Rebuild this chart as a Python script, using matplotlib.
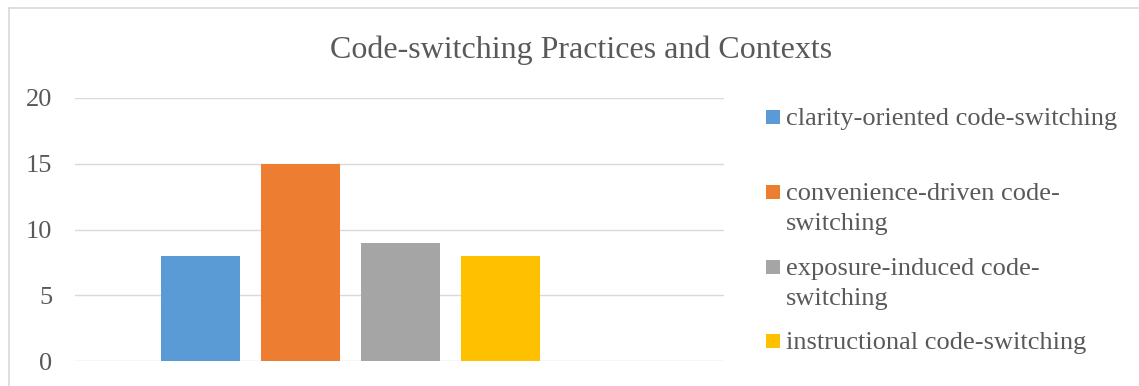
import matplotlib
matplotlib.use("Agg")
import matplotlib.pyplot as plt
from matplotlib.lines import Line2D
from matplotlib.patches import Rectangle
import numpy as np

# Data
series = [
    "clarity-oriented code-switching",
    "convenience-driven code-switching",
    "exposure-induced code-switching",
    "instructional code-switching",
]
# Legend text lines (wrapped after the hyphen, as the legend column is narrow)
legend_lines = [
    ["clarity-oriented code-switching"],
    ["convenience-driven code-", "switching"],
    ["exposure-induced code-", "switching"],
    ["instructional code-switching"],
]
values = [8, 15, 9, 8]
colors = ["#5B9BD5", "#ED7D31", "#A5A5A5", "#FFC000"]
yticks = [0, 5, 10, 15, 20]
title = "Code-switching Practices and Contexts"

W, H = 1139, 386
plt.rcParams["font.family"] = ["Liberation Serif", "DejaVu Serif"]
text_color = "#595959"
grid_color = "#D9D9D9"

fig = plt.figure(figsize=(W / 100, H / 100), dpi=100)


def fx(px):
    return px / W


def fy(py):
    return 1 - py / H


# Plot area
ax = fig.add_axes([fx(75), fy(361), fx(724) - fx(75), fy(98) - fy(361)])
pos = np.arange(len(values))
ax.bar(pos, values, width=0.79, color=colors, zorder=3)
ax.set_xlim(-1.255, 5.235)
ax.set_ylim(0, 20)
ax.set_yticks(yticks)
ax.set_yticklabels([str(t) for t in yticks])
ax.set_xticks([])
ax.tick_params(axis="y", length=0, pad=16.5, labelsize=19, labelcolor=text_color)
ax.yaxis.grid(True, color=grid_color, linewidth=1.0, zorder=0)
ax.set_axisbelow(True)
for s in ax.spines.values():
    s.set_visible(False)

# Title
fig.text(fx(581), fy(58), title, ha="center", va="baseline",
         fontsize=23, color=text_color)

# Legend
baselines = [125, 200, 275, 349]
line_gap = 30
for lines, col, base in zip(legend_lines, colors, baselines):
    fig.patches.append(Rectangle((fx(766), fy(base - 1)), fx(14), fy(base - 15) - fy(base - 1),
                                 transform=fig.transFigure, facecolor=col,
                                 edgecolor="none", figure=fig))
    for i, ln in enumerate(lines):
        fig.text(fx(786), fy(base + i * line_gap), ln, ha="left", va="baseline",
                 fontsize=19, color=text_color)

# Chart-area border (top and left edges visible)
fig.lines.append(Line2D([fx(8.5), 1], [fy(7.5), fy(7.5)], transform=fig.transFigure,
                        color=grid_color, linewidth=1.2))
fig.lines.append(Line2D([fx(8.5), fx(8.5)], [0, fy(7.5)], transform=fig.transFigure,
                        color=grid_color, linewidth=1.2))

fig.savefig("out.png", dpi=100, facecolor="white")
